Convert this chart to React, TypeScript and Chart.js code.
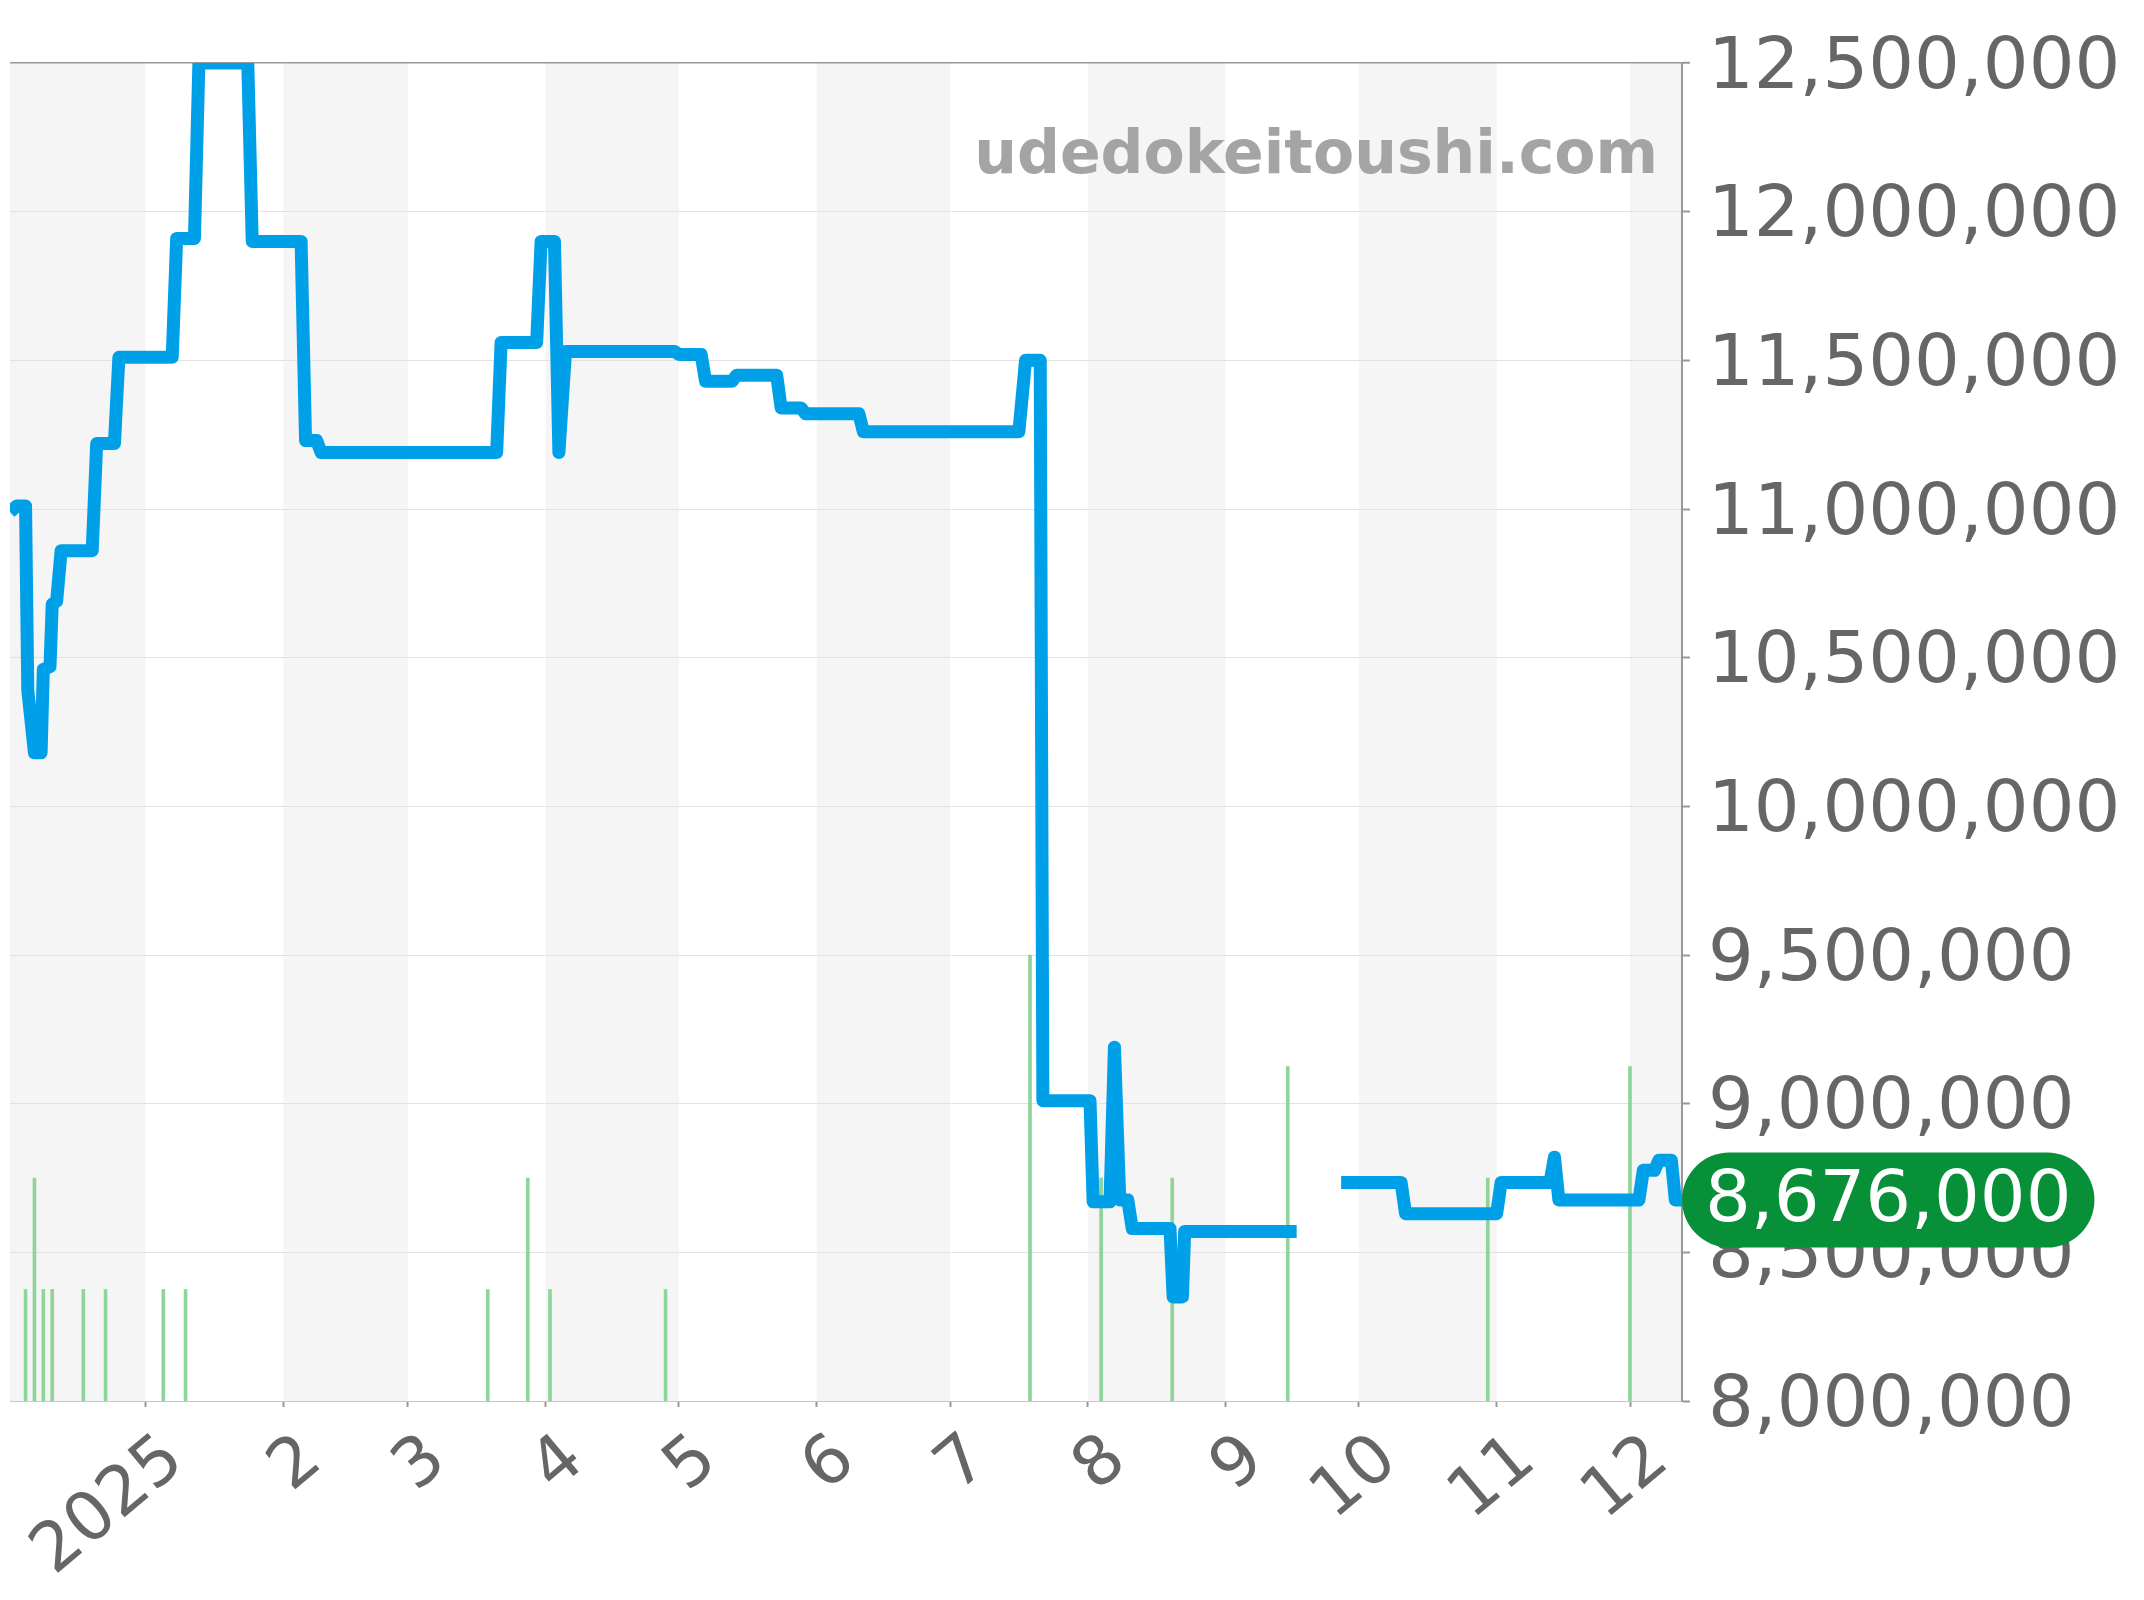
import React, { useEffect, useRef } from "react";
import { Chart, registerables } from "chart.js";

Chart.register(...registerables);

// Days counted from 2025-01-01 (day 0)
const lineDays = [
  -30.5, -29, -27, -26.5, -25, -23.5, -23, -21.5, -21, -20, -19, -12, -11, -7, -6, 6, 7, 11, 12, 23,
  24, 35, 36, 38.5, 39.5, 79, 80, 88, 89, 92, 93, 94.5, 119, 120, 125, 126, 132, 133, 142, 143,
  147.5, 148.5, 160.5, 161.5, 196.5, 198, 201.3, 201.9, 212.5, 213.2, 217, 218, 219.2, 221, 222,
  230.5, 231.2, 233.3, 233.8, 259, 259.5, 269, 282.5, 283.5, 304, 305, 316, 317, 318, 336, 337,
  339.5, 340.5, 343.3, 344.2, 345.7,
];
const lineValues: (number | null)[] = [
  10990000, 11010000, 11010000, 10390000, 10180000, 10180000, 10460000, 10470000, 10680000, 10690000,
  10860000, 10860000, 11220000, 11220000, 11510000, 11510000, 11910000, 11910000, 12500000, 12500000,
  11900000, 11900000, 11230000, 11230000, 11190000, 11190000, 11560000, 11560000, 11900000, 11900000,
  11190000, 11530000, 11530000, 11520000, 11520000, 11430000, 11430000, 11450000, 11450000, 11340000,
  11340000, 11320000, 11320000, 11260000, 11260000, 11500000, 11500000, 9010000, 9010000, 8670000,
  8670000, 9190000, 8676000, 8676000, 8580000, 8580000, 8350000, 8350000, 8570000, 8570000,
  null, 8735000, 8735000, 8630000, 8630000, 8735000, 8735000, 8820000, 8676000, 8676000, 8776000,
  8776000, 8810000, 8810000, 8676000, 8676000,
];

const volumeDays = [-27, -25, -23, -21, -14, -9, 4, 9, 77, 86, 91, 117, 199, 215, 231, 257, 302, 334];
const volumeCounts = [1, 2, 1, 1, 1, 1, 1, 1, 1, 2, 1, 1, 4, 2, 2, 3, 2, 3];

const monthTickDays = [0, 31, 59, 90, 120, 151, 181, 212, 243, 273, 304, 334];
const monthTickLabels = ["2025", "2", "3", "4", "5", "6", "7", "8", "9", "10", "11", "12"];
const monthBandBounds = [-31, 0, 31, 59, 90, 120, 151, 181, 212, 243, 273, 304, 334, 365];

const xMin = -30.5;
const xMax = 345.7;
const yMin = 8000000;
const yMax = 12500000;
const yStep = 500000;
const volumeMax = 12;
const lastPrice = 8676000;
const watermarkText = "udedokeitoushi.com";

const FONT = '"DejaVu Sans", sans-serif';

const bandPlugin = {
  id: "bands",
  beforeDraw(chart: any) {
    const { ctx, chartArea, scales } = chart;
    const xs = scales.x;
    ctx.save();
    ctx.fillStyle = "#f5f5f5";
    for (let i = 0; i < monthBandBounds.length - 1; i += 2) {
      const a = Math.max(xs.getPixelForValue(monthBandBounds[i]), chartArea.left);
      const b = Math.min(xs.getPixelForValue(monthBandBounds[i + 1]), chartArea.right);
      if (b > a) ctx.fillRect(a, chartArea.top, b - a, chartArea.bottom - chartArea.top);
    }
    ctx.restore();
  },
  beforeDatasetsDraw(chart: any) {
    const { ctx, chartArea } = chart;
    ctx.save();
    ctx.font = `bold 60px ${FONT}`;
    ctx.fillStyle = "#a4a4a4";
    ctx.textAlign = "right";
    ctx.textBaseline = "alphabetic";
    ctx.fillText(watermarkText, chartArea.right - 24, chartArea.top + 110);
    ctx.restore();
  },
  afterDraw(chart: any) {
    const { ctx, chartArea, scales } = chart;
    const y = scales.y.getPixelForValue(lastPrice);
    const text = lastPrice.toLocaleString("en-US");
    ctx.save();
    ctx.font = `72px ${FONT}`;
    const tw = ctx.measureText(text).width;
    const h = 95;
    const w = tw + 46;
    const x0 = chartArea.right;
    ctx.fillStyle = "#079038";
    ctx.beginPath();
    ctx.roundRect(x0, y - h / 2, w, h, h / 2);
    ctx.fill();
    ctx.fillStyle = "#ffffff";
    ctx.textAlign = "center";
    ctx.textBaseline = "middle";
    ctx.fillText(text, x0 + w / 2, y + 2);
    ctx.restore();
  },
};

export default function App() {
  const ref = useRef<HTMLCanvasElement>(null);
  useEffect(() => {
    if (!ref.current) return;
    const linePts = lineDays.map((d, i) => ({ x: d, y: lineValues[i] }));
    const volPts = volumeDays.map((d, i) => ({ x: d, y: volumeCounts[i] }));
    const chart = new Chart(ref.current, {
      type: "bar",
      data: {
        datasets: [
          {
            type: "line",
            data: linePts as any,
            borderColor: "#00a0e8",
            borderWidth: 13,
            pointRadius: 0,
            borderJoinStyle: "round",
            borderCapStyle: "butt",
            tension: 0,
            spanGaps: false,
            fill: false,
            yAxisID: "y",
            order: 0,
          } as any,
          {
            type: "bar",
            data: volPts as any,
            backgroundColor: "#8fd49a",
            barThickness: 3,
            yAxisID: "yv",
            order: 1,
          } as any,
        ],
      },
      options: {
        animation: false,
        responsive: false,
        layout: { padding: { left: 2, top: 55, right: 0, bottom: 0 } },
        plugins: { legend: { display: false }, tooltip: { enabled: false } },
        scales: {
          x: {
            type: "linear",
            min: xMin,
            max: xMax,
            offset: false,
            afterBuildTicks: (s: any) => {
              s.ticks = monthTickDays.map((v) => ({ value: v }));
            },
            afterFit: (s: any) => {
              s.height = 191;
              s.paddingLeft = 0;
              s.paddingRight = 0;
            },
            ticks: {
              autoSkip: false,
              minRotation: 40,
              maxRotation: 40,
              color: "#666666",
              font: { size: 68, family: FONT },
              padding: 13,
              labelOffset: 30,
              callback: (v: any) => {
                const idx = monthTickDays.indexOf(Number(v));
                return idx >= 0 ? monthTickLabels[idx] : "";
              },
            },
            grid: { offset: false, drawOnChartArea: false, tickLength: 6, tickColor: "#999999", tickWidth: 2 },
            border: { display: true, color: "#a6dcae", width: 1, dash: [2, 2] },
          } as any,
          y: {
            position: "right",
            min: yMin,
            max: yMax,
            afterFit: (s: any) => {
              s.width = 454;
              s.paddingTop = 0;
              s.paddingBottom = 0;
            },
            ticks: {
              stepSize: yStep,
              color: "#666666",
              font: { size: 72, family: FONT },
              padding: 18,
              labelOffset: 6,
              callback: (v: any) => Number(v).toLocaleString("en-US"),
            },
            grid: {
              color: (c: any) => (c.tick && c.tick.value === yMax ? "#999999" : "#e2e2e2"),
              lineWidth: (c: any) => (c.tick && c.tick.value === yMax ? 1.5 : 1),
              tickColor: "#999999",
              tickLength: 8,
              tickWidth: 2,
            },
            border: { color: "#999999", width: 2 },
          } as any,
          yv: { display: false, min: 0, max: volumeMax },
        },
      } as any,
      plugins: [bandPlugin],
    });
    return () => chart.destroy();
  }, []);
  return (
    <div style={{ width: 2128, height: 1584 }}>
      <canvas ref={ref} width={2128} height={1584} style={{ display: "block" }} />
    </div>
  );
}
